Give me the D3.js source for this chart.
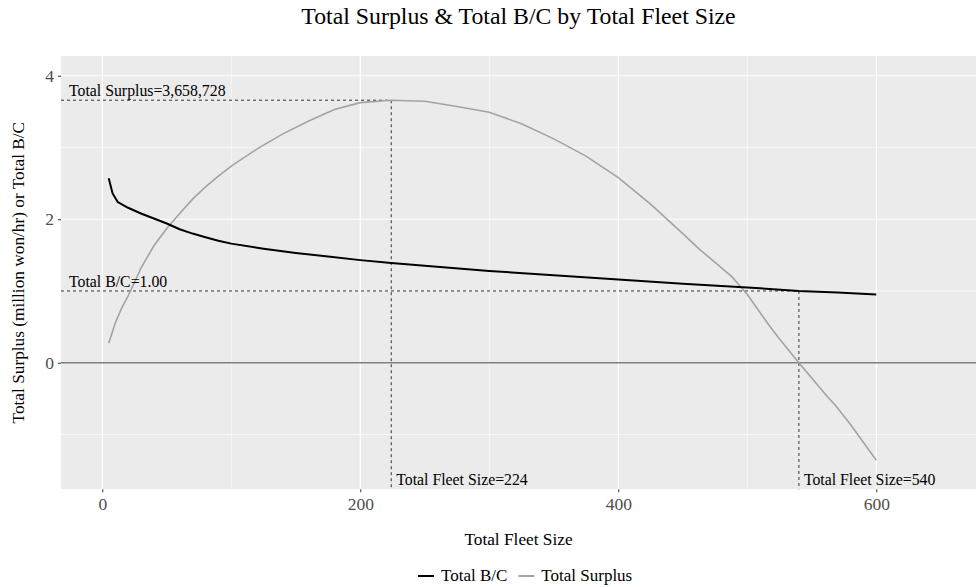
<!DOCTYPE html>
<html>
<head>
<meta charset="utf-8">
<script src="https://cdnjs.cloudflare.com/ajax/libs/d3/7.8.5/d3.min.js"></script>
<style>
body { margin: 0; background: #fff; }
text { font-family: "Liberation Serif", "Times New Roman", serif; }
</style>
</head>
<body>
<svg id="chart" width="976" height="587"></svg>
<script>
// fleet size vs total surplus (million won/hr)
var surplusFleet = [5, 10, 15, 20, 25, 30, 40, 50, 60, 70, 80, 90, 100, 120, 140, 160, 180, 200, 224, 250, 275, 300, 325, 350, 375, 400, 425, 450, 463, 475, 488, 500, 517, 525, 540, 560, 569, 580, 600];
var surplusVals = [0.27, 0.55, 0.76, 0.93, 1.12, 1.32, 1.63, 1.87, 2.08, 2.28, 2.45, 2.60, 2.74, 2.98, 3.19, 3.37, 3.53, 3.625, 3.659, 3.645, 3.57, 3.49, 3.33, 3.12, 2.88, 2.58, 2.21, 1.80, 1.58, 1.40, 1.20, 0.95, 0.52, 0.33, 0.0, -0.43, -0.61, -0.86, -1.36];

// fleet size vs total B/C
var bcFleet = [5, 8, 12, 20, 30, 40, 50, 60, 70, 80, 90, 100, 125, 150, 175, 200, 224, 250, 300, 350, 400, 450, 500, 540, 570, 600];
var bcVals = [2.57, 2.36, 2.24, 2.16, 2.08, 2.01, 1.94, 1.86, 1.80, 1.75, 1.70, 1.66, 1.59, 1.53, 1.48, 1.43, 1.39, 1.35, 1.28, 1.22, 1.16, 1.10, 1.05, 1.00, 0.98, 0.95];

var xTicks = [0, 200, 400, 600];
var xMinor = [100, 300, 500];
var yTicks = [0, 2, 4];
var yMinor = [-1, 1, 3];

var optFleet = 224, optSurplus = 3.658728;
var breakFleet = 540, breakBC = 1.00;

var legendNames = ["Total B/C", "Total Surplus"];
var colors = { bc: "#000000", surplus: "#a3a3a3" };

var svg = d3.select("#chart");
var pLeft = 61, pRight = 976, pTop = 56, pBottom = 489.3;

var x = d3.scaleLinear().domain([-32.0, 677.3]).range([pLeft, pRight]);
var y = d3.scaleLinear().domain([-1.764, 4.275]).range([pBottom, pTop]);

// panel
svg.append("rect").attr("x", pLeft).attr("y", pTop)
    .attr("width", pRight - pLeft).attr("height", pBottom - pTop)
    .attr("fill", "#ebebeb");

var grid = svg.append("g");
xMinor.forEach(function(v) {
    grid.append("line").attr("x1", x(v)).attr("x2", x(v)).attr("y1", pTop).attr("y2", pBottom)
        .attr("stroke", "#fff").attr("stroke-width", 0.6);
});
yMinor.forEach(function(v) {
    grid.append("line").attr("y1", y(v)).attr("y2", y(v)).attr("x1", pLeft).attr("x2", pRight)
        .attr("stroke", "#fff").attr("stroke-width", 0.6);
});
xTicks.forEach(function(v) {
    grid.append("line").attr("x1", x(v)).attr("x2", x(v)).attr("y1", pTop).attr("y2", pBottom)
        .attr("stroke", "#fff").attr("stroke-width", 1.2);
});
yTicks.forEach(function(v) {
    grid.append("line").attr("y1", y(v)).attr("y2", y(v)).attr("x1", pLeft).attr("x2", pRight)
        .attr("stroke", "#fff").attr("stroke-width", 1.2);
});

// axes
var xAxis = d3.axisBottom(x).tickValues(xTicks).tickFormat(d3.format("d")).tickSize(3).tickPadding(5);
var yAxis = d3.axisLeft(y).tickValues(yTicks).tickFormat(d3.format("d")).tickSize(3).tickPadding(4);
var gx = svg.append("g").attr("transform", "translate(0," + pBottom + ")").call(xAxis);
var gy = svg.append("g").attr("transform", "translate(" + pLeft + ",0)").call(yAxis);
[gx, gy].forEach(function(g) {
    g.select(".domain").remove();
    g.selectAll(".tick line").attr("stroke", "#333").attr("stroke-width", 1);
    g.selectAll(".tick text").attr("fill", "#4d4d4d")
        .style("font-family", "Liberation Serif").style("font-size", "17.5px");
});

// zero line
svg.append("line").attr("x1", pLeft).attr("x2", pRight).attr("y1", y(0)).attr("y2", y(0))
    .attr("stroke", "#7f7f7f").attr("stroke-width", 1.6);

// dashed reference lines
var ref = svg.append("g").attr("stroke", "#333").attr("stroke-width", 1)
    .attr("stroke-dasharray", "3,3").attr("fill", "none");
ref.append("line").attr("x1", pLeft).attr("x2", x(optFleet)).attr("y1", y(optSurplus)).attr("y2", y(optSurplus));
ref.append("line").attr("x1", x(optFleet)).attr("x2", x(optFleet)).attr("y1", y(optSurplus)).attr("y2", pBottom);
ref.append("line").attr("x1", pLeft).attr("x2", x(breakFleet)).attr("y1", y(breakBC)).attr("y2", y(breakBC));
ref.append("line").attr("x1", x(breakFleet)).attr("x2", x(breakFleet)).attr("y1", y(breakBC)).attr("y2", pBottom);

// series
var line = d3.line().x(function(d) { return x(d[0]); }).y(function(d) { return y(d[1]); });
var bcData = bcFleet.map(function(f, i) { return [f, bcVals[i]]; });
var surplusData = surplusFleet.map(function(f, i) { return [f, surplusVals[i]]; });
svg.append("path").attr("d", line(surplusData)).attr("fill", "none")
    .attr("stroke", colors.surplus).attr("stroke-width", 1.6);
svg.append("path").attr("d", line(bcData)).attr("fill", "none")
    .attr("stroke", colors.bc).attr("stroke-width", 2);

// annotations
var ann = svg.append("g").style("font-size", "15.8px").attr("fill", "#000");
ann.append("text").attr("x", pLeft + 8).attr("y", y(optSurplus) - 4).text("Total Surplus=3,658,728");
ann.append("text").attr("x", pLeft + 8).attr("y", y(breakBC) - 4).text("Total B/C=1.00");
ann.append("text").attr("x", x(optFleet) + 5).attr("y", pBottom - 4).text("Total Fleet Size=" + optFleet);
ann.append("text").attr("x", x(breakFleet) + 5).attr("y", pBottom - 4).text("Total Fleet Size=" + breakFleet);

// titles
svg.append("text").attr("x", (pLeft + pRight) / 2).attr("y", 24).attr("text-anchor", "middle")
    .style("font-size", "23.8px").text("Total Surplus & Total B/C by Total Fleet Size");
svg.append("text").attr("x", (pLeft + pRight) / 2).attr("y", 545).attr("text-anchor", "middle")
    .style("font-size", "17.3px").text("Total Fleet Size");
svg.append("text").attr("transform", "translate(24," + ((pTop + pBottom) / 2) + ") rotate(-90)")
    .attr("text-anchor", "middle").style("font-size", "17.3px")
    .text("Total Surplus (million won/hr) or Total B/C");

// legend
var legend = svg.append("g").style("font-size", "17px");
var legendColors = [colors.bc, colors.surplus];
var lx = 416;
legendNames.forEach(function(name, i) {
    var g = legend.append("g").attr("transform", "translate(" + lx + ",576)");
    g.append("line").attr("x1", 2).attr("x2", 18).attr("y1", 0).attr("y2", 0)
        .attr("stroke", legendColors[i]).attr("stroke-width", 2);
    var t = g.append("text").attr("x", 25).attr("y", 5).text(name);
    lx += 25 + t.node().getComputedTextLength() + 9;
});
</script>
</body>
</html>
